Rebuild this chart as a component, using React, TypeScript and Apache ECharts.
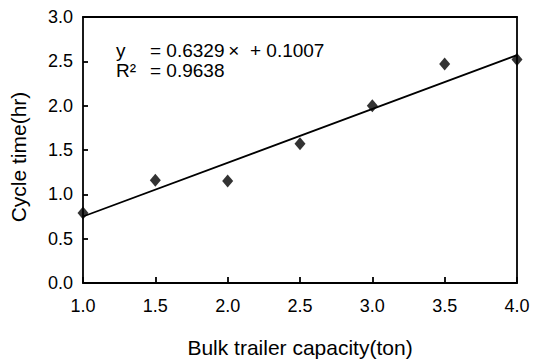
import React, { useEffect, useRef } from "react";
import * as echarts from "echarts";

const capacity = [1.0, 1.5, 2.0, 2.5, 3.0, 3.5, 4.0];
const cycleTime = [0.79, 1.16, 1.15, 1.57, 2.0, 2.47, 2.52];
const fitX = [1.0, 4.0];
const fitY = [0.75, 2.57];
const eqLabel = "= 0.6329\u2009\u00d7  + 0.1007";
const r2Label = "= 0.9638";

export default function App() {
  const ref = useRef<HTMLDivElement>(null);
  useEffect(() => {
    if (!ref.current) return;
    const chart = echarts.init(ref.current, null, { renderer: "svg" });
    const font = "Liberation Sans, Arial, sans-serif";
    const axisCommon = {
      axisLine: { show: true, onZero: false, lineStyle: { color: "#000", width: 1.8 } },
      splitLine: { show: false },
    };
    chart.setOption({
      animation: false,
      backgroundColor: "#fff",
      grid: { left: 82, top: 17, right: 25, bottom: 77 },
      xAxis: [
        {
          type: "value",
          min: 1,
          max: 4,
          interval: 0.5,
          ...axisCommon,
          axisTick: { show: true, inside: true, length: 6, lineStyle: { color: "#000", width: 1.8 } },
          axisLabel: {
            color: "#000",
            fontSize: 18,
            fontFamily: font,
            margin: 14,
            formatter: (v: number) => v.toFixed(1),
          },
          name: "Bulk trailer capacity(ton)",
          nameLocation: "middle",
          nameGap: 54,
          nameTextStyle: { color: "#000", fontSize: 21, fontFamily: font },
        },
        {
          type: "value",
          position: "top",
          min: 1,
          max: 4,
          ...axisCommon,
          axisTick: { show: false },
          axisLabel: { show: false },
        },
      ],
      yAxis: [
        {
          type: "value",
          min: 0,
          max: 3,
          interval: 0.5,
          ...axisCommon,
          axisTick: { show: true, inside: true, length: 5, lineStyle: { color: "#000", width: 1.8 } },
          axisLabel: {
            color: "#000",
            fontSize: 18,
            fontFamily: font,
            margin: 10,
            formatter: (v: number) => v.toFixed(1),
          },
          name: "Cycle time(hr)",
          nameLocation: "middle",
          nameGap: 54,
          nameTextStyle: { color: "#000", fontSize: 21, fontFamily: font, padding: [0, 14, 0, 0] },
        },
        {
          type: "value",
          position: "right",
          min: 0,
          max: 3,
          ...axisCommon,
          axisTick: { show: false },
          axisLabel: { show: false },
        },
      ],
      series: [
        {
          type: "line",
          data: fitX.map((x, i) => [x, fitY[i]]),
          symbol: "none",
          lineStyle: { color: "#000", width: 1.8 },
          z: 2,
        },
        {
          type: "scatter",
          data: capacity.map((x, i) => [x, cycleTime[i]]),
          symbol: "diamond",
          symbolSize: [11, 13],
          itemStyle: { color: "#000" },
          z: 3,
        },
      ],
      graphic: [
        { type: "text", left: 116, top: 41, style: { text: "y", fontSize: 19, fontFamily: font, fill: "#000" } },
        { type: "text", left: 150, top: 41, style: { text: eqLabel, fontSize: 19, fontFamily: font, fill: "#000" } },
        { type: "text", left: 116, top: 61, style: { text: "R\u00b2", fontSize: 19, fontFamily: font, fill: "#000" } },
        { type: "text", left: 150, top: 61, style: { text: r2Label, fontSize: 19, fontFamily: font, fill: "#000" } },
      ],
    });
    return () => chart.dispose();
  }, []);
  return <div ref={ref} style={{ width: 542, height: 363, position: "absolute", left: 0, top: 0 }} />;
}
